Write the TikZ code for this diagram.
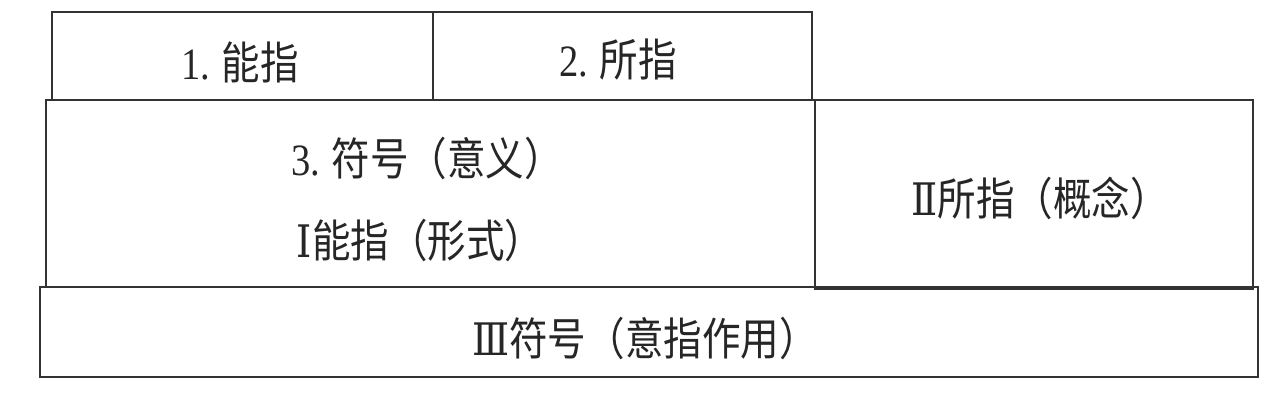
\documentclass[tikz,border=0pt]{standalone}
\usepackage{fontspec}
\setmainfont{Noto Sans CJK SC}
\newfontfamily\latf{Liberation Serif}
\newfontfamily\romf{DejaVu Serif}
\begin{document}
\begin{tikzpicture}[x=0.02cm,y=-0.02cm,
  cell/.style={draw=black!80,line width=1.1pt},
  lbl/.style={inner sep=0pt,font=\fontsize{25.5}{30}\selectfont,text=black!85}]
\useasboundingbox[fill=white] (0,0) rectangle (1280,415);
\newcommand{\cz}[1]{\scalebox{0.86}[1]{#1}}
% cells
\draw[cell] (52,12) rectangle (433,100);
\draw[cell] (433,12) rectangle (812,100);
\draw[cell] (46,100) rectangle (815,287);
\draw[cell] (815,100) rectangle (1253,289);
\draw[cell] (40,287) rectangle (1258,377);
% labels
\node[lbl] (t1) at (240,62) {\cz{{\latf 1.} 能指}};
\node[lbl] (t2) at (618,60) {\cz{{\latf 2.} 所指}};
\node[lbl] (t3) at (427,158) {\cz{{\latf 3.} 符号（意义）}};
\node[lbl] (t4) at (420,240) {\cz{{\romf Ⅰ}能指（形式）}};
\node[lbl] (t5) at (1040,198) {\cz{{\romf Ⅱ}所指（概念）}};
\node[lbl] (t6) at (645,338) {\cz{{\romf Ⅲ}符号（意指作用）}};
\end{tikzpicture}
\end{document}
